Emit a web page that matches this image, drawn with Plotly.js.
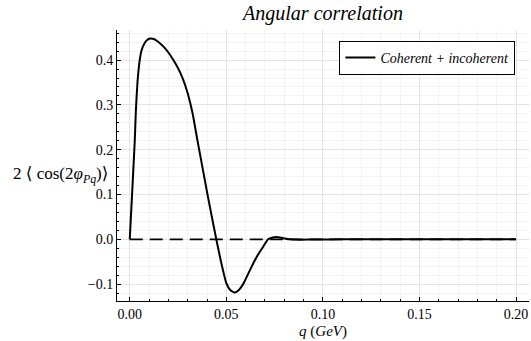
<!DOCTYPE html>
<html>
<head>
<meta charset="utf-8">
<script src="https://cdn.plot.ly/plotly-3.0.1.min.js"></script>
<style>html,body{margin:0;padding:0;background:#fff;}#chart{width:531px;height:341px;}</style>
</head>
<body>
<div id="chart"></div>
<script>
// q values (GeV)
const qValues = [0, 0.0006, 0.0012, 0.0019, 0.0026, 0.0032, 0.004, 0.005, 0.006, 0.0072, 0.0085, 0.0105, 0.0125, 0.015, 0.0175, 0.020, 0.0225, 0.025, 0.0275, 0.030, 0.0325, 0.035, 0.0375, 0.040, 0.0425, 0.0448, 0.047, 0.050, 0.052, 0.0543, 0.0565, 0.0587, 0.061, 0.0639, 0.066, 0.069, 0.0716, 0.074, 0.076, 0.079, 0.0828, 0.088, 0.095, 0.11, 0.13, 0.16, 0.2];
// 2<cos(2 phi_Pq)> — coherent + incoherent
const coherentIncoherent = [0, 0.05, 0.10, 0.16, 0.22, 0.29, 0.35, 0.395, 0.42, 0.434, 0.443, 0.448, 0.447, 0.440, 0.430, 0.417, 0.401, 0.382, 0.358, 0.326, 0.282, 0.222, 0.164, 0.106, 0.050, 0.0, -0.045, -0.098, -0.113, -0.119, -0.113, -0.100, -0.080, -0.054, -0.037, -0.017, 0.0, 0.004, 0.005, 0.003, 0.0, -0.001, -0.0005, 0, 0, 0, 0];
// reference zero line
const zeroQ = [0, 0.2];
const zeroLine = [0, 0];
const seriesName = '<i>Coherent + incoherent</i>';
const xTickVals = [0, 0.05, 0.10, 0.15, 0.20];
const xTickText = ['0.00', '0.05', '0.10', '0.15', '0.20'];
const yTickVals = [-0.1, 0.0, 0.1, 0.2, 0.3, 0.4];
const yTickText = ['\u22120.1', '0.0', '0.1', '0.2', '0.3', '0.4'];

const serif = "'Liberation Serif', 'DejaVu Serif', serif";

const traces = [
  {x: zeroQ, y: zeroLine, mode: 'lines', showlegend: false, hoverinfo: 'skip',
   line: {color: '#000', width: 1.8, dash: '13px,7px'}},
  {x: qValues, y: coherentIncoherent, mode: 'lines', name: seriesName,
   line: {color: '#000', width: 2, shape: 'spline', smoothing: 0.5}}
];

const axisCommon = {
  showline: true, linecolor: '#000', linewidth: 1, mirror: false,
  ticks: 'inside', ticklen: 4, tickcolor: '#000', tickwidth: 1,
  showgrid: true, gridcolor: '#e3e3e3', gridwidth: 1, zeroline: false,
  tickfont: {family: serif, size: 14, color: '#000'}
};

const layout = {
  width: 531, height: 341,
  margin: {l: 117, r: 2, t: 30, b: 40},
  paper_bgcolor: '#fff', plot_bgcolor: '#fff',
  title: {text: '<i>Angular correlation</i>', font: {family: serif, size: 20, color: '#000'},
          xref: 'paper', x: 0.5, xanchor: 'center', yref: 'container', y: 0.962, yanchor: 'middle'},
  xaxis: Object.assign({}, axisCommon, {
    range: [-0.0066, 0.2067], tickvals: xTickVals, ticktext: xTickText,
    minor: {dtick: 0.01, tick0: 0, ticks: 'inside', ticklen: 2, tickcolor: '#000', showgrid: true, gridcolor: '#f3f3f3', gridwidth: 1},
    title: {text: '<i>q</i> (<i>GeV</i>)', font: {family: serif, size: 15, color: '#000'}, standoff: 4}
  }),
  yaxis: Object.assign({}, axisCommon, {
    range: [-0.1377, 0.4672], tickvals: yTickVals, ticktext: yTickText,
    minor: {dtick: 0.02, tick0: 0, ticks: 'inside', ticklen: 2, tickcolor: '#000', showgrid: true, gridcolor: '#f3f3f3', gridwidth: 1}
  }),
  legend: {x: 0.967, xanchor: 'right', y: 0.96, yanchor: 'top', bgcolor: '#fff',
           bordercolor: '#000', borderwidth: 1, font: {family: serif, size: 14, color: '#000'}},
  annotations: [{
    text: '2 \u27E8 cos(2<i>\u03C6</i><sub><i>Pq</i></sub>)\u27E9',
    xref: 'paper', yref: 'paper', x: -0.017, y: 0.465, xanchor: 'right', yanchor: 'middle',
    showarrow: false, font: {family: serif, size: 17, color: '#000'}
  }],
  showlegend: true
};

Plotly.newPlot('chart', traces, layout, {displayModeBar: false, staticPlot: true});
</script>
</body>
</html>
